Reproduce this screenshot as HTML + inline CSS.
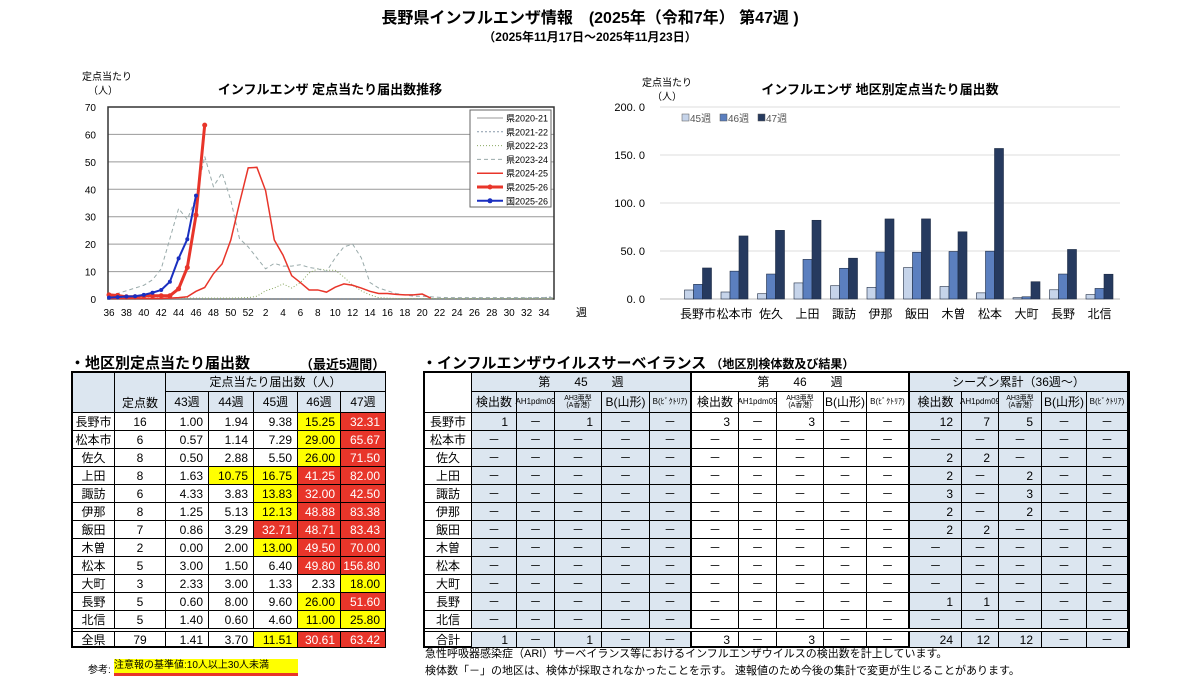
<!DOCTYPE html>
<html><head><meta charset="utf-8">
<style>
body{margin:0;width:1200px;height:678px;background:#fff;position:relative;overflow:hidden;font-family:"Liberation Sans","Noto Sans CJK JP",sans-serif;color:#000}
.abs{position:absolute;white-space:nowrap}
.cell{position:absolute;box-sizing:border-box;border-right:1px solid #000;border-bottom:1px solid #000;display:flex;align-items:center;justify-content:center;font-size:12px;line-height:1}
.tbl{position:absolute;box-sizing:border-box;border:2px solid #000}
</style></head><body>
<div class="abs" style="left:0;width:1180px;text-align:center;top:4px;font-size:16px;font-weight:bold">長野県インフルエンザ情報　(2025年（令和7年） 第47週 )</div>
<div class="abs" style="left:0;width:1180px;text-align:center;top:28px;font-size:12px;font-weight:bold">（2025年11月17日～2025年11月23日）</div>

<svg id="line" width="600" height="330" style="position:absolute;left:0;top:0"></svg>
<svg id="bar" width="600" height="330" style="position:absolute;left:600px;top:0"></svg>

<div class="abs" style="left:70px;top:352px;font-size:15px;font-weight:bold">・地区別定点当たり届出数</div>
<div class="abs" style="left:300px;top:354px;font-size:13px;font-weight:bold">（最近5週間）</div>
<div class="abs" style="left:422px;top:352px;font-size:15px;font-weight:bold">・インフルエンザウイルスサーベイランス <span style="font-size:12px">（地区別検体数及び結果）</span></div>

<div id="t1" class="tbl" style="left:71px;top:371px;width:315px;height:277px"></div>
<div id="t2" class="tbl" style="left:423px;top:371px;width:707px;height:277px"></div>

<div class="abs" style="left:425px;top:645px;font-size:11px">急性呼吸器感染症（ARI）サーベイランス等におけるインフルエンザウイルスの検出数を計上しています。</div>
<div class="abs" style="left:425px;top:662px;font-size:11px">検体数「－」の地区は、検体が採取されなかったことを示す。 速報値のため今後の集計で変更が生じることがあります。</div>
<div class="abs" style="left:88px;top:661px;font-size:10px">参考:</div>
<div class="abs" style="left:114px;top:659px;width:184px;height:14px;background:#ffff00;border-bottom:3px solid #e8352a;font-size:10px;line-height:14px">注意報の基準値:10人以上30人未満</div>

<script>
// ===== line chart data =====
const weekLabels=[36,37,38,39,40,41,42,43,44,45,46,47,48,49,50,51,52,1,2,3,4,5,6,7,8,9,10,11,12,13,14,15,16,17,18,19,20,21,22,23,24,25,26,27,28,29,30,31,32,33,34,35];
const s2020=[0,0,0,0,0,0,0,0,0,0,0,0,0,0,0,0,0,0,0,0,0,0,0,0,0,0,0,0,0,0,0,0,0,0,0,0,0,0,0,0,0,0,0,0,0,0,0,0,0,0,0,0];
const s2021=[0,0,0,0,0,0,0,0,0,0,0,0,0,0,0,0,0,0,0,0,0,0,0,0,0,0,0,0,0,0,0,0,0,0,0,0,0,0,0,0,0,0,0,0,0,0,0,0.2,0.3,0.4,0.5,0.8];
const s2022=[0.3,0.3,0.3,0.3,0.3,0.3,0.3,0.3,0.3,0.3,0.3,0.3,0.3,0.3,0.3,0.4,0.5,1,3,4,5.5,4,6,9.5,11,10.5,10.5,8,5,3,1.5,0.5,0.3,0.2,0.2,0.2,0.2,0.2,0.2,0.2,0.2,0.2,0.2,0.2,0.2,0.2,0.2,0.2,0.2,0.2,0.2,0.2];
const s2023=[1.5,2,3,4,5,7,11,22,33,29,37,52,41,46,36,22,19,15,11,13,12,12,12.5,11.5,11,10,15,19,20,15,6,4,3,2,1.5,1,1,0.8,0.6,0.5,0.5,0.5,0.5,0.5,0.5,0.5,0.5,0.5,0.5,0.5,0.5,0.5];
const s2024=[0.2,0.2,0.2,0.2,0.2,0.2,0.2,0.3,0.5,0.8,2.8,4.2,9.2,12.8,21.5,35,47.8,48,39.5,21.5,16,8.5,6,3.3,3.3,2.5,4.3,5.5,5,4,2.8,2,2,1.7,1.5,1.5,1.8,0.3];
const s2025=[1.5,1.3,0.8,0.8,1.2,1.2,1.2,1.2,3.7,11.5,30.6,63.4];
const sNat=[0.5,0.7,0.9,1.0,1.5,2.3,3.3,6.3,14.8,21.8,37.7];
const yTicks=[0,10,20,30,40,50,60,70];
const NS='http://www.w3.org/2000/svg';
function mk(parent,tag,attrs){const e=document.createElementNS(NS,tag);for(const k in attrs)e.setAttribute(k,attrs[k]);parent.appendChild(e);return e;}
(function(){
const svg=document.getElementById('line');
const X0=109,XS=8.7,Y0=299,YS=192/70;
const x=i=>X0+i*XS, y=v=>Y0-v*YS;
mk(svg,'rect',{x:108,y:107,width:446,height:192,fill:'#fff',stroke:'none'});
yTicks.forEach(t=>{
 const g=mk(svg,'line',{x1:108,x2:554,y1:y(t),y2:y(t),stroke:'#999','stroke-width':1});
 
 const tx=mk(svg,'text',{x:96,y:y(t)+4,'text-anchor':'end','font-size':10});tx.textContent=t;
 
});
mk(svg,'rect',{x:108,y:107,width:446,height:192,fill:'none',stroke:'#333','stroke-width':1.5});
weekLabels.forEach((w,i)=>{ if(i%2==0){const tx=mk(svg,'text',{x:x(i),y:316,'text-anchor':'middle','font-size':10});tx.textContent=w;
 }});
const xu=mk(svg,'text',{x:576,y:316,'font-size':11});xu.textContent='週';
const yt1=mk(svg,'text',{x:82,y:80,'font-size':10});yt1.textContent='定点当たり';
const yt2=mk(svg,'text',{x:88,y:94,'font-size':10});yt2.textContent='（人）';

const tt=mk(svg,'text',{x:330,y:94,'text-anchor':'middle','font-size':13,'font-weight':'bold'});tt.textContent='インフルエンザ 定点当たり届出数推移';

const series=[
 {d:s2020,c:'#999',w:1,da:'',n:'県2020-21',m:false},
 {d:s2021,c:'#8899aa',w:1,da:'2,2',n:'県2021-22',m:false},
 {d:s2022,c:'#8aa860',w:1,da:'1,2',n:'県2022-23',m:false},
 {d:s2023,c:'#99aaaa',w:1,da:'4,3',n:'県2023-24',m:false},
 {d:s2024,c:'#e8352a',w:1.5,da:'',n:'県2024-25',m:false},
 {d:s2025,c:'#e8352a',w:3,da:'',n:'県2025-26',m:true},
 {d:sNat,c:'#1a2fc0',w:2,da:'',n:'国2025-26',m:true}];
series.forEach(s=>{
 const p=mk(svg,'polyline',{points:s.d.map((v,i)=>x(i)+','+y(v)).join(' '),fill:'none',stroke:s.c,'stroke-width':s.w,'stroke-dasharray':s.da});
 
 if(s.m) s.d.forEach((v,i)=>{const c=mk(svg,'circle',{cx:x(i),cy:y(v),r:s.w>2?2.5:2,fill:s.c});
  });
});
const lg=mk(svg,'g',{});

mk(lg,'rect',{x:470,y:110,width:81,height:97,fill:'#fff',stroke:'#666'});
series.forEach((s,i)=>{const yy=118+i*13.8;
 mk(lg,'line',{x1:477,x2:503,y1:yy,y2:yy,stroke:s.c,'stroke-width':s.w,'stroke-dasharray':s.da});
 if(s.m)mk(lg,'circle',{cx:490,cy:yy,r:2.5,fill:s.c});
 const t=mk(lg,'text',{x:506,y:yy+3.5,'font-size':9});t.textContent=s.n;
 });
})();

// ===== bar chart data =====
const regions=['長野市','松本市','佐久','上田','諏訪','伊那','飯田','木曽','松本','大町','長野','北信'];
const w45=[9.38,7.29,5.50,16.75,13.83,12.13,32.71,13.00,6.40,1.33,9.60,4.60];
const w46=[15.25,29.00,26.00,41.25,32.00,48.88,48.71,49.50,49.80,2.33,26.00,11.00];
const w47=[32.31,65.67,71.50,82.00,42.50,83.38,83.43,70.00,156.80,18.00,51.60,25.80];
const barTicks=[0,50,100,150,200];
(function(){
const svg=document.getElementById('bar');
const Y0=299,YS=192/200,C0=98,CS=36.5,BW=9;
const y=v=>Y0-v*YS;
barTicks.forEach(t=>{mk(svg,'line',{x1:60,x2:520,y1:y(t),y2:y(t),stroke:t?'#ddd':'#bbb','stroke-width':1});
 const tx=mk(svg,'text',{x:45,y:y(t)+4,'text-anchor':'end','font-size':11});tx.textContent=t.toFixed(1).replace('.','. ');
 });
const cols=[['#c6d4ea',w45],['#5b7fbf',w46],['#263a5f',w47]];
regions.forEach((r,i)=>{const cx=C0+i*CS;
 cols.forEach((c,j)=>{const v=c[1][i];const b=mk(svg,'rect',{x:cx-13.5+j*BW,y:y(v),width:BW,height:v*YS,fill:c[0],stroke:'#1e2c45','stroke-width':0.6});
  });
 const t=mk(svg,'text',{x:cx,y:318,'text-anchor':'middle','font-size':12});t.textContent=r;
 });
const t1=mk(svg,'text',{x:42,y:86,'font-size':10});t1.textContent='定点当たり';

const t2=mk(svg,'text',{x:52,y:100,'font-size':10});t2.textContent='（人）';
const tt=mk(svg,'text',{x:280,y:94,'text-anchor':'middle','font-size':13,'font-weight':'bold'});tt.textContent='インフルエンザ 地区別定点当たり届出数';

['45週','46週','47週'].forEach((n,j)=>{const lx=82+j*38;
 mk(svg,'rect',{x:lx,y:114,width:7,height:7,fill:cols[j][0],stroke:'#555','stroke-width':0.5});
 const t=mk(svg,'text',{x:lx+8,y:122,'font-size':10,fill:'#555'});t.textContent=n;
 });
})();

// ===== tables =====
const sites=[16,6,8,8,6,8,7,2,5,3,5,5];
const w43=[1.00,0.57,0.50,1.63,4.33,1.25,0.86,0.00,3.00,2.33,0.60,1.40];
const w44=[1.94,1.14,2.88,10.75,3.83,5.13,3.29,2.00,1.50,3.00,8.00,0.60];
const totalRow=[79,1.41,3.70,11.51,30.61,63.42];
function cell(p,l,t,w,h,txt,st){const d=document.createElement('div');d.className='cell';
 d.style.cssText+=`left:${l}px;top:${t}px;width:${w}px;height:${h}px;`+(st||'');d.textContent=txt;p.appendChild(d);return d;}
(function(){
const p=document.getElementById('t1');
const cx=[0,42,93,136,181,225,268,313];
const HB='background:#dce6f0;';
let c=cell(p,0,0,42,40,'',HB);

c=cell(p,42,0,51,40,'',HB+'align-items:flex-end;padding-bottom:3px;');c.textContent='定点数';

c=cell(p,93,0,220,19,'定点当たり届出数（人）',HB);

['43週','44週','45週','46週','47週'].forEach((n,i)=>{c=cell(p,cx[i+2],19,cx[i+3]-cx[i+2],21,n,HB);
 });
const colr=v=>v>=30?'background:#e8352a;color:#fff;':v>=10?'background:#ffff00;':'';
const rows=regions.map((r,i)=>[r,sites[i],w43[i],w44[i],w45[i],w46[i],w47[i]]);
rows.push(['全県'].concat(totalRow));
rows.forEach((r,ri)=>{const top=ri<12?40+ri*18:258;const h=ri==11?20:18;
 r.forEach((v,ci)=>{const w=cx[ci+1]-cx[ci];
  let st='';if(ci>=2)st=colr(v)+'justify-content:flex-end;padding-right:5px;';
  if(ri==12)st+='border-top:1px solid #000;';
  c=cell(p,cx[ci],top,w,ri==12?17:(ri==11?18:18),ci>=2?v.toFixed(2):v,st);
  });});
const dl=document.createElement('div');dl.style.cssText='position:absolute;left:0;top:255px;width:313px;height:1px;border-top:1px solid #000';p.appendChild(dl);
})();

const survRegions=['長野市','松本市','佐久','上田','諏訪','伊那','飯田','木曽','松本','大町','長野','北信','合計'];
const g45=[[1,0,1,0,0],[],[],[],[],[],[],[],[],[],[],[],[1,0,1,0,0]];
const g46=[[3,0,3,0,0],[],[],[],[],[],[],[],[],[],[],[],[3,0,3,0,0]];
const gCum=[[12,7,5,0,0],[],[2,2,0,0,0],[2,0,2,0,0],[3,0,3,0,0],[2,0,2,0,0],[2,2,0,0,0],[],[],[],[1,1,0,0,0],[],[24,12,12,0,0]];
(function(){
const p=document.getElementById('t2');
const cx=[0,47,92,130,177,225,267,314,352,399,442,485,537,574,617,662,703];
const BL='background:#dce6f0;';
let c=cell(p,0,0,47,40,'');

const gh=['第　　45　　週','第　　46　　週','シーズン累計（36週～）'];
const sub=['検出数','AH1pdm09','AH3亜型<br>(A香港)','B(山形)','B(ﾋﾞｸﾄﾘｱ)'];
const subFs=[12,8,7,12,8];
gh.forEach((g,gi)=>{const bg=gi==1?'':BL;const x0=cx[1+gi*5],x1=cx[6+gi*5];
 c=cell(p,x0,0,x1-x0,19,g,bg+(gi==2?'':'border-right:2px solid #000;'));
 
 sub.forEach((s,si)=>{const i=1+gi*5+si;c=cell(p,cx[i],19,cx[i+1]-cx[i],21,'',bg+`font-size:${subFs[si]}px;text-align:center;line-height:1.05;`+(si==4&&gi<2?'border-right:2px solid #000;':''));
  c.innerHTML=s;});});
const groups=[g45,g46,gCum];
survRegions.forEach((r,ri)=>{const top=ri<12?40+ri*18:258;
 c=cell(p,0,top,47,ri==12?17:18,r,ri==12?'border-top:1px solid #000;':'');
 
 groups.forEach((g,gi)=>{const bg=gi==1?'':BL;
  for(let si=0;si<5;si++){const i=1+gi*5+si;const v=(g[ri]||[])[si];const txt=v?String(v):'－';
   let st=bg+(v?'justify-content:flex-end;padding-right:8px;':'')+(si==4&&gi<2?'border-right:2px solid #000;':'')+(ri==12?'border-top:1px solid #000;':'');
   c=cell(p,cx[i],top,cx[i+1]-cx[i],ri==12?17:18,txt,st);
   }});});
const dl=document.createElement('div');dl.style.cssText='position:absolute;left:0;top:255px;width:703px;height:1px;border-top:1px solid #000';p.appendChild(dl);
})();
</script>
</body></html>
